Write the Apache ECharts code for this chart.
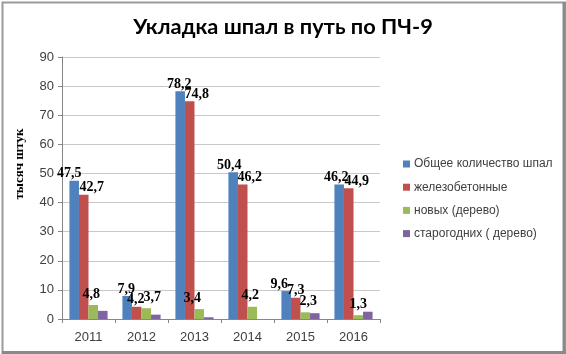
<!DOCTYPE html>
<html>
<head>
<meta charset="utf-8">
<script src="https://cdn.jsdelivr.net/npm/echarts@6/dist/echarts.min.js"></script>
<style>
  html, body { margin: 0; padding: 0; background: #fff; }
  #chart { width: 566px; height: 354px; }
</style>
</head>
<body>
<div id="chart"></div>
<script>
let years = ['2011', '2012', '2013', '2014', '2015', '2016']
let seriesNames = ['Общее количество шпал', 'железобетонные', 'новых (дерево)', 'старогодних ( дерево)']
let total = [47.5, 7.9, 78.2, 50.4, 9.6, 46.2]
let concrete = [42.7, 4.2, 74.8, 46.2, 7.3, 44.9]
let newWood = [4.8, 3.7, 3.4, 4.2, 2.3, 1.3]
let oldWood = [2.8, 1.5, 0.6, 0, 2.0, 2.5]
let yTicks = [0, 10, 20, 30, 40, 50, 60, 70, 80, 90]

// horizontal nudges of the data labels (they were dragged by hand in the original)
let totalShift = [-5, -1, -1, -4, -7, -3]
let concreteShift = [8, -1, 7, 7, 0, 8]
let newWoodShift = [-2, 6, -7, -2, 3, 0]

let colors = ['#4F81BD', '#C0504D', '#9BBB59', '#8064A2']

let fmt = p => String(p.value).replace('.', ',')

function withLabels(values, shifts, dist) {
    return values.map((v, i) => ({
        value: v,
        label: {
            show: true,
            position: 'top',
            offset: [shifts[i], 0],
            distance: dist,
            formatter: fmt,
            fontFamily: 'Liberation Serif',
            fontWeight: 'bold',
            fontSize: 14,
            color: '#000'
        }
    }))
}

let chart = echarts.init(document.getElementById('chart'))
chart.setOption({
    animation: false,
    color: colors,
    title: {
        text: 'Укладка шпал в путь по ПЧ-9',
        left: 'center',
        top: 11,
        textStyle: {fontFamily: 'Lato', fontWeight: 'bold', fontSize: 21.8, color: '#000'}
    },
    grid: {left: 62, right: 186, top: 57, bottom: 35},
    legend: {
        orient: 'vertical',
        left: 398,
        top: 152,
        itemWidth: 7,
        itemHeight: 7,
        itemGap: 9.2,
        icon: 'rect',
        data: seriesNames,
        textStyle: {fontFamily: 'Liberation Sans', fontSize: 12, lineHeight: 14, color: '#404040', padding: [0, 0, 0, -1]}
    },
    xAxis: {
        type: 'category',
        data: years,
        axisLine: {lineStyle: {color: '#868686'}},
        axisTick: {show: true, length: 4, lineStyle: {color: '#868686'}},
        axisLabel: {fontFamily: 'Liberation Sans', fontSize: 13, color: '#404040', margin: 12}
    },
    yAxis: {
        type: 'value',
        min: yTicks[0],
        max: yTicks[yTicks.length - 1],
        interval: 10,
        axisLine: {show: true, lineStyle: {color: '#868686'}},
        axisTick: {show: true, length: 4, lineStyle: {color: '#868686'}},
        splitLine: {lineStyle: {color: '#c8c8c8'}},
        axisLabel: {fontFamily: 'Liberation Sans', fontSize: 13, color: '#404040', margin: 8}
    },
    series: [
        {name: seriesNames[0], type: 'bar', data: withLabels(total, totalShift, 0), barGap: '0%', barCategoryGap: '28%'},
        {name: seriesNames[1], type: 'bar', data: withLabels(concrete, concreteShift, 0)},
        {name: seriesNames[2], type: 'bar', data: withLabels(newWood, newWoodShift, 4)},
        {name: seriesNames[3], type: 'bar', data: oldWood}
    ],
    graphic: [
        {type: 'text', x: 20, y: 164, rotation: Math.PI / 2,
         style: {text: 'тысяч штук', font: 'bold 13px "Liberation Serif"', fill: '#000',
                 textAlign: 'center', textVerticalAlign: 'middle'}},
        {type: 'rect', left: 0, top: 0, shape: {width: 563, height: 351},
         style: {fill: 'none', stroke: '#9a9a9a', lineWidth: 2}},
        {type: 'line', shape: {x1: 564, y1: 2, x2: 564, y2: 353}, style: {stroke: '#8a8a8a', lineWidth: 3}},
        {type: 'line', shape: {x1: 2, y1: 352.5, x2: 566, y2: 352.5}, style: {stroke: '#8a8a8a', lineWidth: 3}}
    ]
})
</script>
</body>
</html>
